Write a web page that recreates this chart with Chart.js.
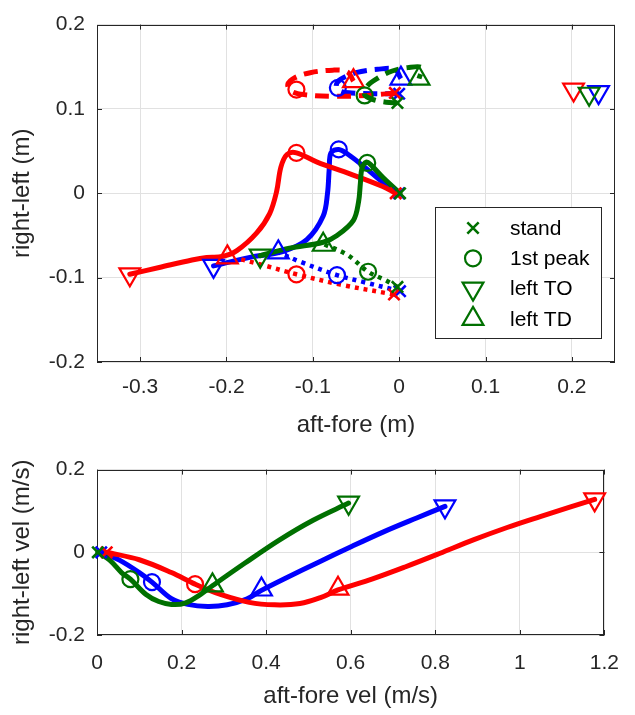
<!DOCTYPE html>
<html>
<head>
<meta charset="utf-8">
<script src="https://cdn.jsdelivr.net/npm/chart.js@4.4.0/dist/chart.umd.min.js"></script>
<style>
  html, body { margin: 0; padding: 0; background: #fff; }
  #wrap { position: relative; width: 635px; height: 715px; }
  #pos { position: absolute; left: 0; top: 0; }
  #vel { position: absolute; left: 0; top: 445px; }
</style>
</head>
<body>
<div id="wrap">
  <canvas id="pos" width="635" height="445"></canvas>
  <canvas id="vel" width="635" height="270"></canvas>
</div>
<script>
// ---- top panel: position (m), points are [aft-fore, right-left] ----
const posTicksX = [-0.3, -0.2, -0.1, 0, 0.1, 0.2];
const posTicksY = [-0.2, -0.1, 0, 0.1, 0.2];

const redSolid = [[-0.004, 0], [-0.019, 0.008], [-0.057, 0.023], [-0.095, 0.037], [-0.119, 0.048], [-0.130, 0.046], [-0.137, 0.031], [-0.142, 0.002], [-0.150, -0.024], [-0.165, -0.047], [-0.188, -0.068], [-0.205, -0.075], [-0.223, -0.076], [-0.240, -0.079], [-0.278, -0.088], [-0.312, -0.096]];
const blueSolid = [[0, 0], [-0.019, 0.013], [-0.040, 0.031], [-0.059, 0.046], [-0.070, 0.052], [-0.079, 0.048], [-0.081, 0.029], [-0.083, 0.000], [-0.088, -0.027], [-0.107, -0.055], [-0.135, -0.069], [-0.173, -0.076], [-0.215, -0.086]];
const greenSolid = [[0.001, 0], [-0.019, 0.019], [-0.033, 0.034], [-0.038, 0.037], [-0.043, 0.030], [-0.045, 0.011], [-0.047, -0.010], [-0.053, -0.032], [-0.072, -0.050], [-0.088, -0.058], [-0.127, -0.065], [-0.161, -0.074]];

const redDotted = [[-0.006, -0.120], [-0.069, -0.108], [-0.119, -0.096], [-0.158, -0.085], [-0.188, -0.077]];
const blueDotted = [[0.001, -0.116], [-0.042, -0.105], [-0.072, -0.097], [-0.115, -0.081], [-0.140, -0.070]];
const greenDotted = [[-0.002, -0.111], [-0.016, -0.103], [-0.036, -0.093], [-0.060, -0.073], [-0.088, -0.060]];

const redDashed = [[-0.005, 0.119], [-0.037, 0.116], [-0.077, 0.115], [-0.110, 0.117], [-0.125, 0.121], [-0.129, 0.129], [-0.121, 0.137], [-0.103, 0.143], [-0.077, 0.146], [-0.060, 0.144], [-0.053, 0.133]];
const blueDashed = [[0, 0.118], [-0.030, 0.118], [-0.055, 0.119], [-0.068, 0.121], [-0.073, 0.127], [-0.068, 0.135], [-0.050, 0.143], [-0.025, 0.147], [-0.005, 0.147], [0.002, 0.136]];
const greenDashed = [[-0.002, 0.107], [-0.015, 0.108], [-0.030, 0.111], [-0.040, 0.117], [-0.037, 0.127], [-0.024, 0.137], [-0.008, 0.145], [0.010, 0.149], [0.026, 0.149], [0.023, 0.136]];

const redStandPos = [[-0.004, 0], [-0.006, -0.120], [-0.005, 0.119]];
const blueStandPos = [[0, 0], [0.001, -0.116], [0, 0.118]];
const greenStandPos = [[0.001, 0], [-0.002, -0.111], [-0.002, 0.107]];
const redPeakPos = [[-0.119, 0.048], [-0.119, -0.096], [-0.119, 0.123]];
const bluePeakPos = [[-0.070, 0.052], [-0.072, -0.097], [-0.071, 0.125]];
const greenPeakPos = [[-0.037, 0.036], [-0.036, -0.093], [-0.040, 0.116]];
const redTOPos = [[-0.312, -0.096], [0.202, 0.123]];
const blueTOPos = [[-0.215, -0.086], [0.231, 0.120]];
const greenTOPos = [[-0.161, -0.074], [0.220, 0.118]];
const redTDPos = [[-0.199, -0.076], [-0.053, 0.133]];
const blueTDPos = [[-0.140, -0.070], [0.002, 0.136]];
const greenTDPos = [[-0.088, -0.061], [0.023, 0.136]];

// ---- bottom panel: velocity (m/s) ----
const velTicksX = [0, 0.2, 0.4, 0.6, 0.8, 1, 1.2];
const velTicksY = [-0.2, 0, 0.2];

const redVel = [[0.023, 0], [0.100, -0.018], [0.176, -0.049], [0.232, -0.077], [0.292, -0.102], [0.360, -0.121], [0.420, -0.127], [0.480, -0.124], [0.530, -0.109], [0.570, -0.091], [0.650, -0.065], [0.730, -0.035], [0.810, -0.003], [0.890, 0.030], [0.970, 0.060], [1.050, 0.087], [1.120, 0.110], [1.177, 0.128]];
const blueVel = [[0.010, 0], [0.053, -0.019], [0.100, -0.049], [0.130, -0.072], [0.176, -0.112], [0.215, -0.126], [0.262, -0.131], [0.308, -0.127], [0.354, -0.113], [0.389, -0.092], [0.447, -0.062], [0.524, -0.024], [0.602, 0.014], [0.679, 0.050], [0.756, 0.083], [0.823, 0.111]];
const greenVel = [[0.002, 0], [0.030, -0.019], [0.058, -0.049], [0.079, -0.065], [0.116, -0.102], [0.146, -0.119], [0.176, -0.126], [0.208, -0.123], [0.246, -0.101], [0.273, -0.081], [0.350, -0.026], [0.430, 0.029], [0.510, 0.077], [0.595, 0.119]];

const redStandVel = [[0.023, 0]];
const blueStandVel = [[0.010, 0]];
const greenStandVel = [[0.002, 0]];
const redPeakVel = [[0.232, -0.077]];
const bluePeakVel = [[0.130, -0.072]];
const greenPeakVel = [[0.079, -0.065]];
const redTOVel = [[1.177, 0.128]];
const blueTOVel = [[0.823, 0.111]];
const greenTOVel = [[0.595, 0.120]];
const redTDVel = [[0.570, -0.088]];
const blueTDVel = [[0.389, -0.090]];
const greenTDVel = [[0.273, -0.080]];

const legendLabels = ["stand", "1st peak", "left TO", "left TD"];

const RED = "#ff0000";
const BLUE = "#0000ff";
const GREEN = "#007000";
const AXIS = "#262626";
const FONT = '"Liberation Sans", Arial, Helvetica, sans-serif';

Chart.defaults.font.family = FONT;

const pts = (a) => a.map(([x, y]) => ({ x, y }));

function line(data, color, dash, width) {
  return {
    data: pts(data),
    showLine: true,
    borderColor: color,
    borderWidth: width,
    borderDash: dash,
    borderCapStyle: dash.length ? "butt" : "round",
    borderJoinStyle: "round",
    tension: 0.35,
    pointRadius: 0,
    fill: false,
    clip: false,
  };
}

// marker kinds: x = stand, o = 1st peak, v = left TO, ^ = left TD
const MARKS = {
  x: { style: "crossRot", radius: 8, width: 2.6, rotation: 0 },
  o: { style: "circle", radius: 8, width: 2.2, rotation: 0 },
  v: { style: "triangle", radius: 12, width: 2.2, rotation: 180 },
  "^": { style: "triangle", radius: 12, width: 2.2, rotation: 0 },
};

function marks(data, color, kind) {
  const m = MARKS[kind];
  return {
    data: pts(data),
    showLine: false,
    borderColor: color,
    pointStyle: m.style,
    pointRadius: m.radius,
    pointRotation: m.rotation,
    pointBorderColor: color,
    pointBorderWidth: m.width,
    pointBackgroundColor: "rgba(0,0,0,0)",
    clip: false,
  };
}

// bottom-to-top drawing order
function ordered(list) {
  return list.map((d, i) => Object.assign(d, { order: list.length - i }));
}

// box around the plot area with inward ticks on all four sides
const frame = {
  id: "frame",
  beforeDatasetsDraw(chart) {
    const { ctx, chartArea: a, scales } = chart;
    const x = scales.x, y = scales.y;
    ctx.save();
    ctx.strokeStyle = AXIS;
    ctx.lineWidth = 1;
    ctx.beginPath();
    x.ticks.forEach((t) => {
      const px = Math.round(x.getPixelForValue(t.value)) + 0.5;
      ctx.moveTo(px, a.bottom); ctx.lineTo(px, a.bottom - 5);
      ctx.moveTo(px, a.top); ctx.lineTo(px, a.top + 5);
    });
    y.ticks.forEach((t) => {
      const py = Math.round(y.getPixelForValue(t.value)) + 0.5;
      ctx.moveTo(a.left, py); ctx.lineTo(a.left + 5, py);
      ctx.moveTo(a.right, py); ctx.lineTo(a.right - 5, py);
    });
    ctx.stroke();
    ctx.strokeRect(Math.round(a.left) + 0.5, Math.round(a.top) + 0.5, Math.round(a.right - a.left) - 1, Math.round(a.bottom - a.top) - 1);
    ctx.restore();
  },
};

function drawMarker(ctx, kind, cx, cy, color) {
  const m = MARKS[kind];
  ctx.save();
  ctx.strokeStyle = color;
  ctx.lineWidth = m.width;
  ctx.beginPath();
  if (kind === "x") {
    const d = m.radius * Math.SQRT1_2;
    ctx.moveTo(cx - d, cy - d); ctx.lineTo(cx + d, cy + d);
    ctx.moveTo(cx - d, cy + d); ctx.lineTo(cx + d, cy - d);
  } else if (kind === "o") {
    ctx.arc(cx, cy, m.radius, 0, Math.PI * 2);
  } else {
    const s = kind === "v" ? -1 : 1;
    const r = m.radius;
    ctx.moveTo(cx, cy - s * r);
    ctx.lineTo(cx + r * Math.sin(Math.PI / 3), cy + s * r / 2);
    ctx.lineTo(cx - r * Math.sin(Math.PI / 3), cy + s * r / 2);
    ctx.closePath();
  }
  ctx.stroke();
  ctx.restore();
}

const legendBox = {
  id: "legendBox",
  afterDraw(chart) {
    const { ctx } = chart;
    const kinds = ["x", "o", "v", "^"];
    ctx.save();
    ctx.fillStyle = "#fff";
    ctx.fillRect(435.5, 207.5, 166, 131);
    ctx.strokeStyle = AXIS;
    ctx.lineWidth = 1;
    ctx.strokeRect(435.5, 207.5, 166, 131);
    ctx.font = "21px " + FONT;
    ctx.textBaseline = "middle";
    ctx.fillStyle = "#000";
    legendLabels.forEach((label, i) => {
      const yy = 228 + i * 30.3;
      drawMarker(ctx, kinds[i], 473, yy, GREEN);
      ctx.fillText(label, 510, yy + 1);
    });
    ctx.restore();
  },
};

function axes(cfg) {
  const tickFont = { family: FONT, size: 21 };
  const titleFont = { family: FONT, size: 24 };
  return {
    x: {
      type: "linear",
      min: cfg.xMin, max: cfg.xMax,
      afterBuildTicks: (s) => { s.ticks = cfg.xTicks.map((v) => ({ value: v })); },
      afterFit: (s) => { s.height = cfg.xHeight; },
      grid: { color: "#e1e1e1", drawTicks: false },
      border: { display: false },
      ticks: { font: tickFont, color: AXIS, padding: cfg.xPad, maxRotation: 0, autoSkip: false, callback: (v) => String(v) },
      title: { display: true, text: cfg.xTitle, font: titleFont, color: AXIS, padding: { top: 0, bottom: cfg.xTitlePad } },
    },
    y: {
      type: "linear",
      min: cfg.yMin, max: cfg.yMax,
      afterBuildTicks: (s) => { s.ticks = cfg.yTicks.map((v) => ({ value: v })); },
      afterFit: (s) => { s.width = 97; },
      grid: { color: "#e1e1e1", drawTicks: false },
      border: { display: false },
      ticks: { font: tickFont, color: AXIS, padding: 12, autoSkip: false, callback: (v) => String(v) },
      title: { display: true, text: cfg.yTitle, font: titleFont, color: AXIS, padding: { top: 8, bottom: 0 } },
    },
  };
}

const baseOptions = {
  responsive: false,
  animation: false,
  events: [],
  plugins: { legend: { display: false }, tooltip: { enabled: false } },
};

new Chart(document.getElementById("pos").getContext("2d"), {
  type: "scatter",
  data: {
    datasets: ordered([
      line(blueSolid, BLUE, [], 5), line(blueDotted, BLUE, [4, 5], 4.5), line(blueDashed, BLUE, [14, 8], 5),
      line(redSolid, RED, [], 5), line(redDotted, RED, [4, 5], 4.5), line(redDashed, RED, [14, 8], 5),
      line(greenSolid, GREEN, [], 5), line(greenDotted, GREEN, [4, 5], 4.5), line(greenDashed, GREEN, [14, 8], 5),
      marks(blueStandPos, BLUE, "x"), marks(bluePeakPos, BLUE, "o"), marks(blueTOPos, BLUE, "v"), marks(blueTDPos, BLUE, "^"),
      marks(redStandPos, RED, "x"), marks(redPeakPos, RED, "o"), marks(redTOPos, RED, "v"), marks(redTDPos, RED, "^"),
      marks(greenStandPos, GREEN, "x"), marks(greenPeakPos, GREEN, "o"), marks(greenTOPos, GREEN, "v"), marks(greenTDPos, GREEN, "^"),
    ]),
  },
  options: Object.assign({}, baseOptions, {
    layout: { padding: { left: 0, right: 20, top: 17, bottom: 0 }, autoPadding: false },
    scales: axes({
      xMin: -0.35, xMax: 0.25, xTicks: posTicksX, xHeight: 83, xPad: 13, xTitlePad: 5, xTitle: "aft-fore (m)",
      yMin: -0.2, yMax: 0.2, yTicks: posTicksY, yTitle: "right-left (m)",
    }),
  }),
  plugins: [frame, legendBox],
});

new Chart(document.getElementById("vel").getContext("2d"), {
  type: "scatter",
  data: {
    datasets: ordered([
      line(blueVel, BLUE, [], 5), line(redVel, RED, [], 5), line(greenVel, GREEN, [], 5),
      marks(blueStandVel, BLUE, "x"), marks(bluePeakVel, BLUE, "o"), marks(blueTOVel, BLUE, "v"), marks(blueTDVel, BLUE, "^"),
      marks(redStandVel, RED, "x"), marks(redPeakVel, RED, "o"), marks(redTOVel, RED, "v"), marks(redTDVel, RED, "^"),
      marks(greenStandVel, GREEN, "x"), marks(greenPeakVel, GREEN, "o"), marks(greenTOVel, GREEN, "v"), marks(greenTDVel, GREEN, "^"),
    ]),
  },
  options: Object.assign({}, baseOptions, {
    layout: { padding: { left: 0, right: 20, top: 18, bottom: 0 }, autoPadding: false },
    scales: axes({
      xMin: 0, xMax: 1.2, xTicks: velTicksX, xHeight: 80, xPad: 16, xTitlePad: 4, xTitle: "aft-fore vel (m/s)",
      yMin: -0.2, yMax: 0.2, yTicks: velTicksY, yTitle: "right-left vel (m/s)",
    }),
  }),
  plugins: [frame],
});
</script>
</body>
</html>
